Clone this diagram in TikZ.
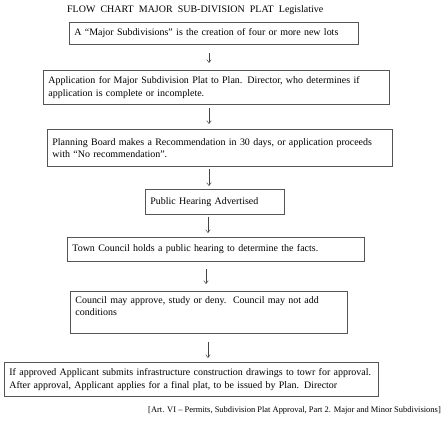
\documentclass[tikz,border=0pt]{standalone}
\usepackage{fontspec}
\setmainfont{Liberation Serif}
\usetikzlibrary{arrows.meta,calc}
\definecolor{boxline}{HTML}{555555}
\definecolor{arrline}{HTML}{444444}
\newcommand{\fitline}[2]{\makebox[#1][s]{#2}}
\begin{document}
\begin{tikzpicture}[x=1bp,y=-1bp,
  every node/.style={font=\fontsize{10}{12.5}\selectfont},
  box/.style={draw=boxline, line width=0.8bp, anchor=north west, inner xsep=5bp, inner ysep=0bp, align=left},
  arr/.style={draw=arrline, line width=0.5bp, -{Straight Barb[length=3bp,width=4.5bp,line width=0.5bp]}}]
\useasboundingbox (0,0) rectangle (443,423);
\node[anchor=base west, inner sep=0] (title) at (67,12.5) {\fitline{256bp}{FLOW CHART MAJOR SUB-DIVISION PLAT Legislative}};
\node[box, minimum width=289bp, minimum height=22bp, text width=279bp] (b1) at (69,22) {\fitline{272bp}{A “Major Subdivisions” is the creation of four or more new lots}};
\node[box, minimum width=346bp, minimum height=34bp, text width=336bp] (b2) at (43,70) {\fitline{315bp}{Application for Major Subdivision Plat to Plan. Director, who determines if}\\application is complete or incomplete.};
\node[box, minimum width=345bp, minimum height=37bp, text width=335bp] (b3) at (47,129) {\fitline{331bp}{Planning Board makes a Recommendation in 30 days, or application proceeds}\\with “No recommendation”.};
\node[box, minimum width=139bp, minimum height=25bp, text width=129bp] (b4) at (145,189) {\fitline{110bp}{Public Hearing Advertised}};
\node[box, minimum width=297bp, minimum height=24bp, text width=287bp] (b5) at (67,237) {\fitline{254bp}{Town Council holds a public hearing to determine the facts.}};
\node[box, minimum width=277bp, minimum height=42bp, text width=267bp] (b6) at (70,291) {\fitline{251bp}{Council may approve, study or deny.\ \ Council may not add}\\conditions\\\mbox{}};
\node[box, minimum width=374bp, minimum height=34bp, text width=364bp] (b7) at (4,362) {\fitline{359bp}{If approved Applicant submits infrastructure construction drawings to towr for approval.}\\\fitline{299bp}{After approval, Applicant applies for a final plat, to be issued by Plan. Director}};
\node[anchor=base west, inner sep=0, font=\fontsize{8.5}{10}\selectfont] (foot) at (148,412) {[Art. VI – Permits, Subdivision Plat Approval, Part 2. Major and Minor Subdivisions]};
\coordinate (ax1) at (209,0);
\coordinate (ax2) at (208,0);
\coordinate (ax3) at (206,0);
\draw[arr, shorten <=8bp, shorten >=7bp] (b1.south -| ax1) -- (b2.north -| ax1);
\draw[arr, shorten <=3bp, shorten >=5bp] (b2.south -| ax1) -- (b3.north -| ax1);
\draw[arr, shorten <=2bp, shorten >=3bp] (b3.south -| ax1) -- (b4.north -| ax1);
\draw[arr, shorten <=2bp, shorten >=4bp] (b4.south -| ax2) -- (b5.north -| ax2);
\draw[arr, shorten <=7bp, shorten >=7bp] (b5.south -| ax3) -- (b6.north -| ax3);
\draw[arr, shorten <=8bp, shorten >=4bp] (b6.south -| ax2) -- (b7.north -| ax2);
\end{tikzpicture}
\end{document}
